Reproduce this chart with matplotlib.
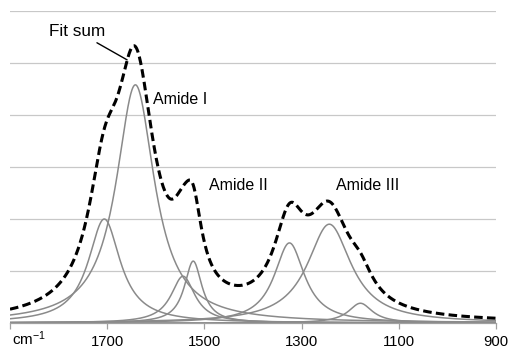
import numpy as np
import matplotlib
matplotlib.use("Agg")
import matplotlib.pyplot as plt

# Fitted band components (wavenumber in cm-1, arbitrary height, half width in cm-1)
peak_centers = [1706, 1642, 1544, 1523, 1325, 1243, 1179]
peak_heights = [2.00, 4.58, 0.90, 1.19, 1.54, 1.90, 0.38]
peak_widths = [40, 48, 30, 22, 38, 55, 30]

x_ticks = [1900, 1700, 1500, 1300, 1100, 900]
x_tick_labels = ["", "1700", "1500", "1300", "1100", "900"]

band_labels = ["Amide I", "Amide II", "Amide III"]
band_label_pos = [(1605, 4.3), (1491, 2.65), (1230, 2.65)]

plt.rcParams["font.family"] = ["Liberation Sans", "DejaVu Sans"]
plt.rcParams["mathtext.default"] = "regular"

GRAY = "#8a8a8a"
GRID = "#c8c8c8"


def lorentz(x, x0, h, w):
    return h / (1.0 + ((x - x0) / w) ** 2)


wn = np.linspace(1900, 900, 1200)
components = [lorentz(wn, c, h, w) for c, h, w in zip(peak_centers, peak_heights, peak_widths)]
fit_sum = np.sum(components, axis=0)

fig = plt.figure(figsize=(5.09, 3.50), dpi=100)
ax = fig.add_axes([10 / 509, 1 - 323 / 350, 486 / 509, 312 / 350])

for y in range(1, 7):
    ax.axhline(y, color=GRID, lw=0.9, zorder=0)

for comp in components:
    ax.plot(wn, comp, color=GRAY, lw=1.1, zorder=2)

ax.plot(wn, fit_sum, color="black", lw=2.2, dashes=(2.8, 1.4), zorder=3)

ax.set_xlim(1900, 900)
ax.set_ylim(0, 6)
ax.set_xticks(x_ticks)
ax.set_xticklabels(x_tick_labels, fontsize=10.7)
ax.set_yticks([])
for side in ["top", "left", "right"]:
    ax.spines[side].set_visible(False)
ax.spines["bottom"].set_color("#a0a0a0")
ax.spines["bottom"].set_linewidth(0.9)
ax.tick_params(axis="x", direction="out", length=4, width=0.9, color="#a0a0a0", pad=5)

ax.text(1896, -0.42, "cm$^{-1}$", fontsize=11, ha="left", va="baseline")

for label, (lx, ly) in zip(band_labels, band_label_pos):
    ax.text(lx, ly, label, fontsize=11.5, ha="left", va="center")

ax.annotate("Fit sum", xy=(1659, 5.06), xytext=(1703, 5.6), fontsize=12.3,
            ha="right", va="center",
            arrowprops=dict(arrowstyle="-", color="black", lw=1.0, shrinkA=1, shrinkB=0))

fig.savefig("out.png", dpi=100)
